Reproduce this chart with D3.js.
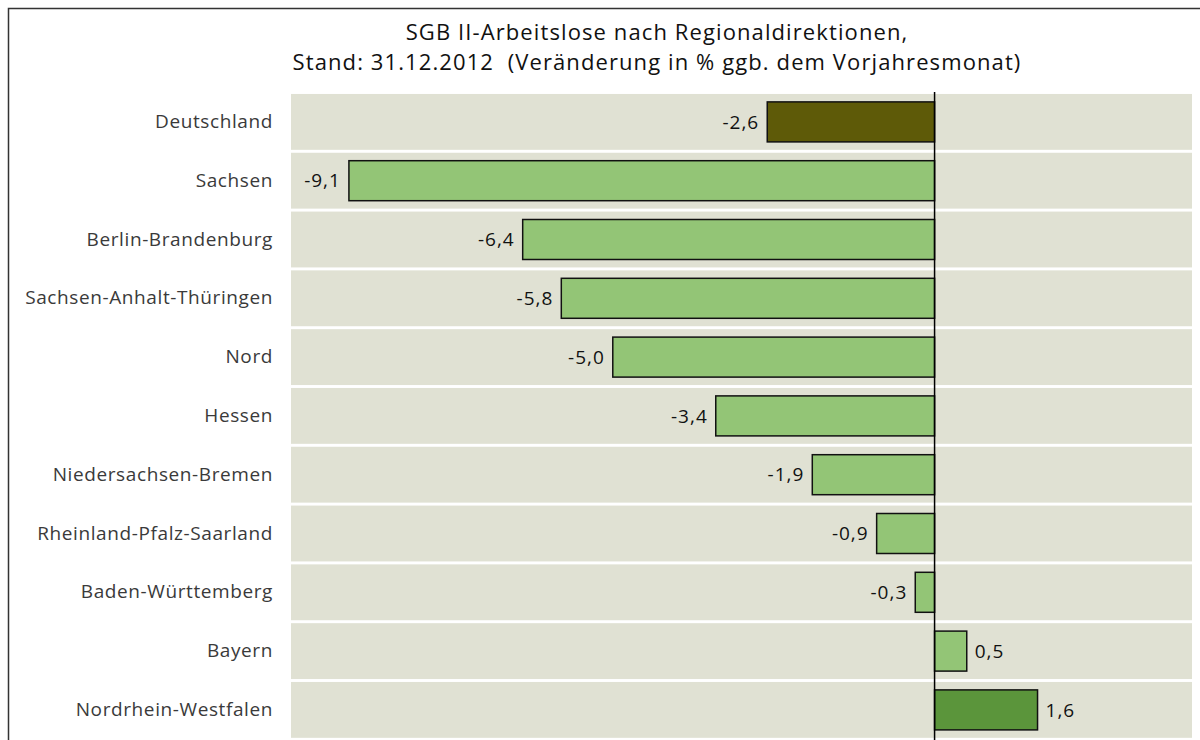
<!DOCTYPE html>
<html>
<head>
<meta charset="utf-8">
<script src="https://cdn.jsdelivr.net/npm/d3@7"></script>
<style>
  body { margin: 0; background: #fff; }
  svg { display: block; font-family: "Open Sans", sans-serif; }
  text { white-space: pre; }
</style>
</head>
<body>
<svg id="chart" width="1200" height="740"></svg>
<script>
const regions = ["Deutschland", "Sachsen", "Berlin-Brandenburg", "Sachsen-Anhalt-Thüringen", "Nord",
  "Hessen", "Niedersachsen-Bremen", "Rheinland-Pfalz-Saarland", "Baden-Württemberg", "Bayern", "Nordrhein-Westfalen"]
const change = [-2.6, -9.1, -6.4, -5.8, -5.0, -3.4, -1.9, -0.9, -0.3, 0.5, 1.6]
const titleLines = ["SGB II-Arbeitslose nach Regionaldirektionen,",
  "Stand: 31.12.2012  (Veränderung in % ggb. dem Vorjahresmonat)"]

const w = 1200, h = 740
const svg = d3.select("#chart")

// frame
svg.append("path")
   .attr("d", "M8.5,740 V8.5 H1200")
   .attr("fill", "none")
   .attr("stroke", "#333")
   .attr("stroke-width", 1.5)

svg.append("g").selectAll("text")
   .data(titleLines)
   .join("text")
   .attr("x", 657)
   .attr("y", (d, i) => 40 + i * 30)
   .attr("text-anchor", "middle")
   .attr("font-size", 22)
   .attr("letter-spacing", 1.1)
   .attr("fill", "#111")
   .text(d => d)

const xScale = d3.scaleLinear().domain([-10, 4]).range([291, 1192])
const yScale = d3.scaleBand().domain(regions).range([92.5, 92.5 + 58.8 * regions.length]).paddingInner(0.05).paddingOuter(0.025)

// background bands
svg.append("g").selectAll("rect")
   .data(regions)
   .join("rect")
   .attr("x", xScale(-10))
   .attr("y", d => yScale(d))
   .attr("width", xScale(4) - xScale(-10))
   .attr("height", yScale.bandwidth())
   .attr("fill", "#e0e1d3")

const color = (d, i) => i === 0 ? "#5e5a08" : (d.v > 1 ? "#5b953b" : "#93c576")
const rows = regions.map((r, i) => ({ r, v: change[i], i }))
const barH = 40

svg.append("g").selectAll("rect")
   .data(rows)
   .join("rect")
   .attr("x", d => xScale(Math.min(0, d.v)))
   .attr("y", d => yScale(d.r) + yScale.bandwidth() / 2 - barH / 2)
   .attr("width", d => Math.abs(xScale(d.v) - xScale(0)))
   .attr("height", barH)
   .attr("fill", d => color(d, d.i))
   .attr("stroke", "#111")
   .attr("stroke-width", 1.5)

svg.append("g").selectAll("text")
   .data(rows)
   .join("text")
   .attr("x", d => d.v < 0 ? xScale(d.v) - 8 : xScale(d.v) + 8)
   .attr("y", d => yScale(d.r) + yScale.bandwidth() / 2)
   .attr("dy", "0.35em")
   .attr("text-anchor", d => d.v < 0 ? "end" : "start")
   .attr("font-size", 19)
   .attr("letter-spacing", 1)
   .attr("fill", "#111")
   .text(d => d3.format(".1f")(d.v).replace(".", ",").replace("−", "-"))

// category labels
const yAxis = d3.axisLeft(yScale).tickSize(0).tickPadding(18)
const ga = svg.append("g")
   .attr("transform", "translate(" + xScale(-10) + ",0)")
   .call(yAxis)
ga.select(".domain").remove()
ga.selectAll("text")
  .attr("font-size", 19)
  .attr("letter-spacing", 0.6)
  .attr("fill", "#3a3a3a")
  .attr("font-family", "'Open Sans', sans-serif")

// zero line
svg.append("line")
   .attr("x1", xScale(0)).attr("x2", xScale(0))
   .attr("y1", 92).attr("y2", h)
   .attr("stroke", "#000")
   .attr("stroke-width", 1.5)
</script>
</body>
</html>
